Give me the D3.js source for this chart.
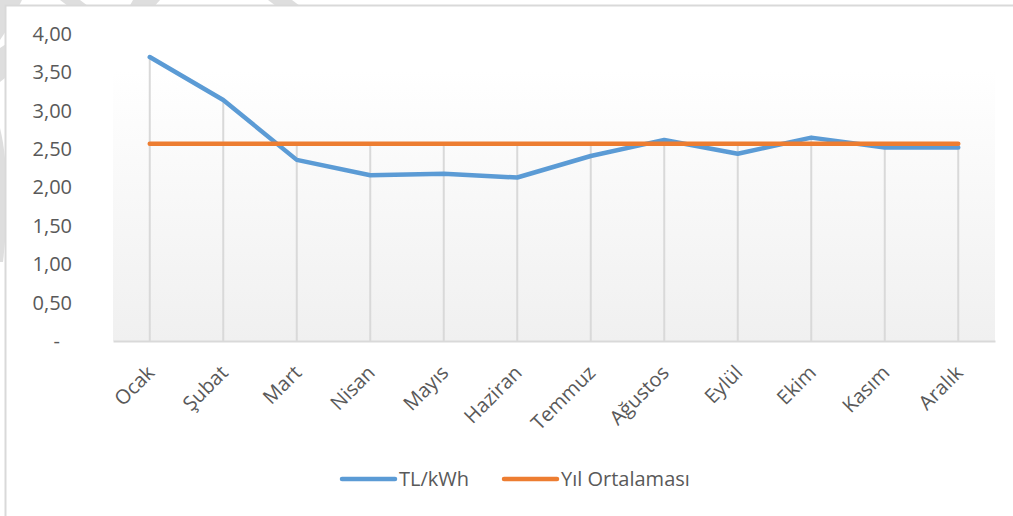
<!DOCTYPE html>
<html>
<head>
<meta charset="utf-8">
<script src="https://cdn.jsdelivr.net/npm/d3@7"></script>
<style>
  body { margin: 0; background: #fff; }
  svg { display: block; font-family: "Open Sans", sans-serif; }
</style>
</head>
<body>
<div id="chart"></div>
<script>
// months
const months = ['Ocak', 'Şubat', 'Mart', 'Nisan', 'Mayıs', 'Haziran', 'Temmuz', 'Ağustos', 'Eylül', 'Ekim', 'Kasım', 'Aralık'];
// TL/kWh per month
const price = [3.70, 3.14, 2.36, 2.16, 2.18, 2.13, 2.41, 2.62, 2.44, 2.65, 2.52, 2.52];
// yearly average
const average = [2.57, 2.57, 2.57, 2.57, 2.57, 2.57, 2.57, 2.57, 2.57, 2.57, 2.57, 2.57];
const yTicks = [0, 0.5, 1, 1.5, 2, 2.5, 3, 3.5, 4];
const yTickLabels = ['-', '0,50', '1,00', '1,50', '2,00', '2,50', '3,00', '3,50', '4,00'];
const seriesNames = ['TL/kWh', 'Yıl Ortalaması'];

const width = 1013, height = 516;
const blue = '#5b9bd5', orange = '#ed7d31', grid = '#d9d9d9', textCol = '#595959';

const svg = d3.select('#chart').append('svg')
  .attr('width', width)
  .attr('height', height);

// background watermark strokes (from the scanned page)
const wm = svg.append('g').attr('fill', '#dedede');
wm.append('path').attr('d', 'M0,0 L22,0 L8,28 L0,40 Z');
wm.append('path').attr('d', 'M0,48 L6,44 L5,78 L0,82 Z');
wm.append('path').attr('d', 'M0,128 C8,160 9,210 3,262 L0,262 Z');
wm.append('path').attr('d', 'M60,0 L80,0 L92,9 L72,9 Z');
wm.append('path').attr('d', 'M133,0 L160,0 L152,9 L128,9 Z');
wm.append('path').attr('d', 'M268,0 L292,0 L300,6 L276,6 Z');

// chart frame (left and top only)
svg.append('rect')
  .attr('x', 6).attr('y', 6)
  .attr('width', width - 6).attr('height', height - 6)
  .attr('fill', '#fff');
svg.append('path')
  .attr('d', `M5.5,${height} V5.5 H${width}`)
  .attr('fill', 'none')
  .attr('stroke', grid)
  .attr('stroke-width', 2);

const x = d3.scaleBand()
  .domain(months)
  .range([113, 995]);

const y = d3.scaleLinear()
  .domain([0, 4])
  .range([341, 34]);

const cx = d => x(d) + x.bandwidth() / 2;

// plot area gradient
const defs = svg.append('defs');
const grad = defs.append('linearGradient')
  .attr('id', 'plotGrad')
  .attr('x1', 0).attr('y1', 0).attr('x2', 0).attr('y2', 1);
grad.append('stop').attr('offset', '0%').attr('stop-color', '#ffffff');
grad.append('stop').attr('offset', '100%').attr('stop-color', '#f0f0f0');

svg.append('rect')
  .attr('x', 113)
  .attr('y', 70)
  .attr('width', 995 - 113)
  .attr('height', y(0) - 70)
  .attr('fill', 'url(#plotGrad)');

// drop lines from the highest point to the axis
svg.append('g')
  .selectAll('line')
  .data(months)
  .join('line')
  .attr('x1', d => cx(d))
  .attr('x2', d => cx(d))
  .attr('y1', (d, i) => y(Math.max(price[i], average[i])))
  .attr('y2', y(0))
  .attr('stroke', grid)
  .attr('stroke-width', 2);

// y axis labels
const yAxis = svg.append('g')
  .attr('transform', 'translate(72,0)')
  .call(d3.axisLeft(y)
    .tickValues(yTicks)
    .tickSize(0)
    .tickPadding(0)
    .tickFormat((d, i) => yTickLabels[i]));
yAxis.select('.domain').remove();
yAxis.selectAll('text')
  .attr('fill', textCol)
  .style('font-size', '20px')
  .style('font-family', '"Open Sans", sans-serif')
  .attr('dx', (d, i) => i === 0 ? -12 : 0);

// x axis
const xAxis = svg.append('g')
  .attr('transform', `translate(0,${y(0)})`)
  .call(d3.axisBottom(x).tickSize(0).tickPadding(0));
xAxis.select('.domain')
  .attr('stroke', grid)
  .attr('stroke-width', 2);
xAxis.selectAll('text')
  .attr('fill', textCol)
  .style('font-size', '20px')
  .style('font-family', '"Open Sans", sans-serif')
  .attr('text-anchor', 'end')
  .attr('dy', 0)
  .attr('y', 0)
  .attr('transform', 'translate(6,33) rotate(-45)');

// series
const line = d3.line()
  .x((d, i) => cx(months[i]))
  .y(d => y(d));

svg.append('path')
  .datum(price)
  .attr('fill', 'none')
  .attr('stroke', blue)
  .attr('stroke-width', 4.5)
  .attr('stroke-linejoin', 'round')
  .attr('stroke-linecap', 'round')
  .attr('d', line);

svg.append('path')
  .datum(average)
  .attr('fill', 'none')
  .attr('stroke', orange)
  .attr('stroke-width', 4.5)
  .attr('stroke-linecap', 'round')
  .attr('d', line);

// legend
const legend = svg.append('g').attr('transform', 'translate(0,479)');
const legendX = [342, 504];
const legendColors = [blue, orange];
seriesNames.forEach((name, i) => {
  const g = legend.append('g').attr('transform', `translate(${legendX[i]},0)`);
  g.append('line')
    .attr('x1', 0).attr('x2', 53)
    .attr('stroke', legendColors[i])
    .attr('stroke-width', 4.5)
    .attr('stroke-linecap', 'round');
  g.append('text')
    .attr('x', 57)
    .attr('dy', '0.35em')
    .attr('fill', textCol)
    .style('font-size', '20px')
    .text(name);
});
</script>
</body>
</html>
